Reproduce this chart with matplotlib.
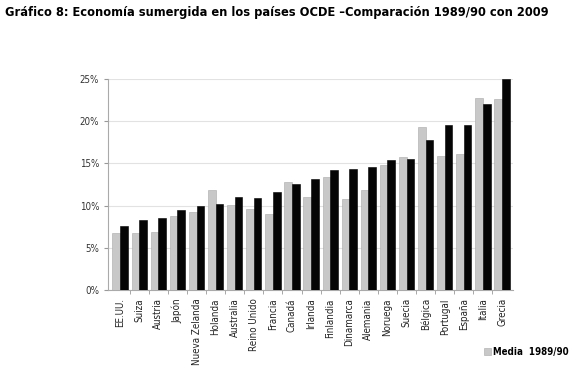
import matplotlib.pyplot as plt
import numpy as np
from matplotlib.ticker import PercentFormatter

plt.rcParams['font.family'] = ['DejaVu Sans']
plt.rcParams['font.stretch'] = 'condensed'

paises = ['EE.UU.', 'Suiza', 'Austria', 'Japón', 'Nueva Zelanda', 'Holanda', 'Australia',
          'Reino Unido', 'Francia', 'Canadá', 'Irlanda', 'Finlandia', 'Dinamarca', 'Alemania',
          'Noruega', 'Suecia', 'Bélgica', 'Portugal', 'España', 'Italia', 'Grecia']
media_1989_90 = [6.7, 6.7, 6.9, 8.8, 9.2, 11.9, 10.1, 9.6, 9.0, 12.8, 11.0,
                 13.4, 10.8, 11.8, 14.8, 15.8, 19.3, 15.9, 16.1, 22.8, 22.6]
valores_2009 = [7.6, 8.3, 8.5, 9.5, 9.9, 10.2, 11.0, 10.9, 11.6, 12.6, 13.1,
                14.2, 14.3, 14.6, 15.4, 15.5, 17.8, 19.5, 19.5, 22.0, 25.0]

fig = plt.figure(figsize=(5.75, 3.73), dpi=100)
ax = fig.add_axes([0.188, 0.223, 0.705, 0.565])

x = np.arange(len(paises))
w = 0.4
ax.bar(x - w/2, media_1989_90, w, color='#c8c8c8', edgecolor='#a8a8a8', linewidth=0.4,
       label='Media  1989/90', zorder=3)
ax.bar(x + w/2, valores_2009, w, color='#050505', edgecolor='#000000', linewidth=0.4,
       label='2009', zorder=3)

ax.set_xlim(-0.63, 20.6)
ax.set_ylim(0, 25)
ax.set_yticks(range(0, 26, 5))
ax.yaxis.set_major_formatter(PercentFormatter(decimals=0))
ax.grid(axis='y', color='#e2e2e2', linewidth=0.8, zorder=0)

ax.set_xticks(x)
ax.set_xticklabels(paises, rotation=90, fontsize=7, color='#222222')
ax.set_xticks(x[:-1] + 0.5, minor=True)
ax.tick_params(axis='x', which='major', length=0, pad=6)
ax.tick_params(axis='x', which='minor', length=3, color='#999999')
ax.tick_params(axis='y', labelsize=7, colors='#333333', length=3)
ax.tick_params(axis='y', color='#999999')

for s in ['top', 'right']:
    ax.spines[s].set_visible(False)
ax.spines['left'].set_color('#aaaaaa')
ax.spines['bottom'].set_color('#aaaaaa')

fig.text(0.008, 0.985, 'Gráfico 8: Economía sumergida en los países OCDE –Comparación 1989/90 con 2009',
         fontsize=9.2, fontweight='bold', va='top', ha='left')

h, l = ax.get_legend_handles_labels()
fig.legend(h[:1], l[:1], loc='lower right', bbox_to_anchor=(1.005, 0.02), frameon=False,
           handlelength=0.7, handleheight=0.7, handletextpad=0.3,
           prop={'weight': 'bold', 'size': 7, 'stretch': 'condensed'})

fig.savefig('out.png', dpi=100)
